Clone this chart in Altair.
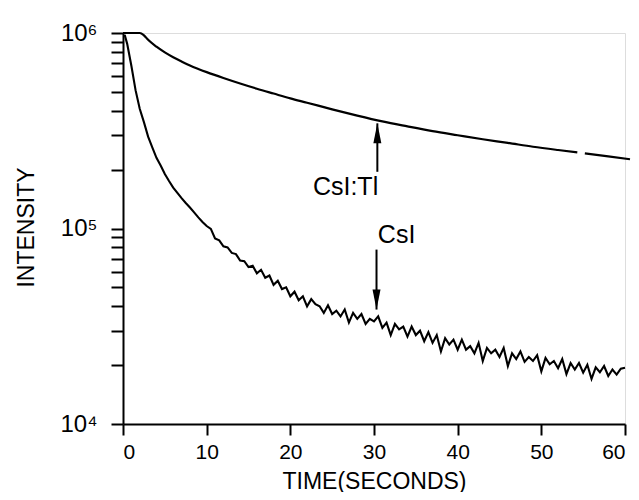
import altair as alt
import pandas as pd

FONT = "Liberation Sans, Arial, sans-serif"

# ---- CsI:Tl decay curve (smooth), split where the trace has a small gap ----
tl_time = [0, 1, 2, 2.5, 3, 4, 5, 6, 7, 8, 9, 10, 12, 14, 16, 18, 20, 22, 25, 28,
           31, 34, 37, 40, 43, 46, 49, 52, 54.3, 55.2, 58, 60.6]
tl_value = [1.0e6, 1.0e6, 1.0e6, 0.973e6, 0.923e6, 0.851e6, 0.796e6, 0.752e6, 0.715e6,
            0.682e6, 0.655e6, 0.631e6, 0.589e6, 0.552e6, 0.519e6, 0.49e6, 0.463e6,
            0.44e6, 0.407e6, 0.378e6, 0.353e6, 0.333e6, 0.315e6, 0.3e6, 0.286e6,
            0.274e6, 0.262e6, 0.252e6, 0.245e6, 0.242e6, 0.234e6, 0.226e6]
tl_segment = [1] * 29 + [2] * 3

# ---- CsI decay curve (noisy), intensities in thousands, sampled every 0.5 s ----
csi_time = [0.2] + [0.5 * i for i in range(1, 121)]
csi_k = [
    980,
    880, 680, 510, 410, 350, 295, 260, 230, 210, 190,          # 0.5 .. 5
    175, 162, 152, 143, 135, 128, 121, 114, 108, 103,          # 5.5 .. 10
    99.5, 89, 87, 81, 80, 75, 74, 68.5, 68, 63.5,              # 10.5 .. 15
    64.5, 59, 61.5, 56, 57.5, 51.5, 54, 49, 50, 45,            # 15.5 .. 20
    47.5, 43, 45, 40, 43.5, 41, 40, 37, 40.5, 36.5,            # 20.5 .. 25
    38, 35.5, 38.5, 33, 37, 34.5, 36.5, 32.5, 34.5, 33.5,      # 25.5 .. 30
    35.5, 31, 33, 28.5, 32.5, 30.5, 31.5, 28, 31.5, 28.5,      # 30.5 .. 35
    30, 26.5, 29.5, 26, 28.5, 23.5, 27.5, 25.5, 27, 24,        # 35.5 .. 40
    27, 24, 25, 23, 26, 21, 24.5, 23, 24, 22,                  # 40.5 .. 45
    24.5, 19.8, 23, 21.5, 23.5, 20.8, 22, 21, 22.5, 18.6,      # 45.5 .. 50
    21.8, 20.2, 21, 19.3, 21.5, 18, 20.5, 19, 20.5, 18.3,      # 50.5 .. 55
    20.1, 17, 19.5, 18.4, 19.8, 17.6, 19, 17.9, 19.2, 19.4,    # 55.5 .. 60
]

# ---- annotations ----
arrow_time = [30.4, 30.3]
arrow_tail = [1.95e5, 7.8e4]
arrow_tip = [3.45e5, 3.85e4]
arrow_head = ["M0,0L0.4,2L-0.4,2Z", "M0,0L0.4,-2L-0.4,-2Z"]

label_text = ["CsI:Tl", "CsI"]
label_time = [26.6, 32.7]
label_value = [1.63e5, 9.3e4]

y_ticks = [k * 10 ** e for e in (4, 5) for k in range(1, 10)] + [10 ** 6]

tl_df = pd.DataFrame({"t": tl_time, "v": tl_value, "seg": tl_segment})
csi_df = pd.DataFrame({"t": csi_time, "v": [k * 1000 for k in csi_k]})
arrow_df = pd.DataFrame({"t": arrow_time, "v": arrow_tip, "v2": arrow_tail, "shape": arrow_head})
label_df = pd.DataFrame({"t": label_time, "v": label_value, "label": label_text})

x_axis = alt.Axis(
    values=[0, 10, 20, 30, 40, 50, 60], title="TIME(SECONDS)", grid=False,
    tickSize=11, tickWidth=2, tickColor="black", domainColor="black", domainWidth=2,
    labelFont=FONT, labelFontSize=21, labelColor="black", labelPadding=6,
    titleFont=FONT, titleFontSize=23, titleFontWeight="normal", titleColor="black",
    titleY=64, titleBaseline="alphabetic",
)
y_axis = alt.Axis(
    values=y_ticks, title="INTENSITY", grid=False,
    labelExpr="datum.value == 10000 ? '10⁴' : datum.value == 100000 ? '10⁵' : datum.value == 1000000 ? '10⁶' : ''",
    tickSize=12, tickWidth=2, tickColor="black", domainColor="black", domainWidth=2,
    labelFont=FONT, labelFontSize=24, labelColor="black", labelPadding=14,
    labelBaseline="middle",
    titleFont=FONT, titleFontSize=23, titleFontWeight="normal", titleColor="black",
    titleAngle=-90, titleX=-97, titleY=194, titleBaseline="middle", titleAlign="center",
)

x_scale = alt.Scale(domain=[0, 60], nice=False, zero=False)
y_scale = alt.Scale(type="log", domain=[1e4, 1e6], nice=False)


def X():
    return alt.X("t:Q", scale=x_scale, axis=x_axis)


def Y():
    return alt.Y("v:Q", scale=y_scale, axis=y_axis)


tl_line = alt.Chart(tl_df).mark_line(color="black", strokeWidth=2.2, interpolate="monotone").encode(
    x=X(), y=Y(), detail="seg:N", order="t:Q"
)
csi_line = alt.Chart(csi_df).mark_line(color="black", strokeWidth=2.1).encode(
    x=X(), y=Y(), order="t:Q"
)
shafts = alt.Chart(arrow_df).mark_rule(color="black", strokeWidth=2).encode(
    x=X(), y=Y(), y2="v2:Q"
)
heads = alt.Chart(arrow_df).mark_point(filled=True, color="black", size=400, opacity=1).encode(
    x=X(), y=Y(), shape=alt.Shape("shape:N", scale=None)
)
labels = alt.Chart(label_df).mark_text(
    font=FONT, fontSize=25, color="black", align="center", baseline="middle"
).encode(x=X(), y=Y(), text="label:N")

chart = alt.layer(tl_line, csi_line, shafts, heads, labels).properties(
    width=502, height=391,
    autosize=alt.AutoSizeParams(type="none"),
    padding={"left": 115, "top": 25, "right": 6, "bottom": 68},
).configure_view(strokeOpacity=0).configure(background="white")

chart.save("out.html", embed_options={"renderer": "svg", "actions": False})
